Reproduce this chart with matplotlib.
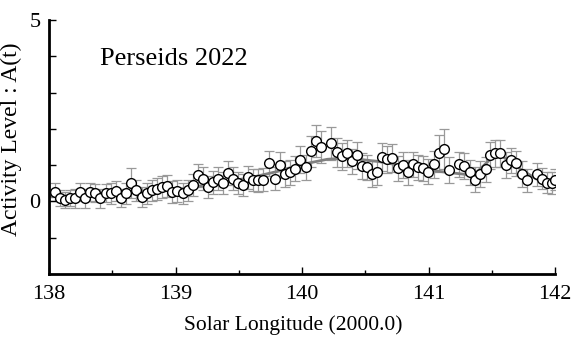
import matplotlib
matplotlib.use("Agg")
import matplotlib.pyplot as plt
from matplotlib.ticker import MultipleLocator

plt.rcParams["font.family"] = ["Liberation Serif", "DejaVu Serif"]

# observed activity (solar longitude, level, error)
sol_lon = [138.047, 138.087, 138.126, 138.166, 138.206, 138.245, 138.285, 138.324, 138.364, 138.403,
           138.451, 138.490, 138.530, 138.569, 138.609, 138.648, 138.688, 138.735, 138.775, 138.814,
           138.854, 138.893, 138.933, 138.972, 139.012, 139.059, 139.099, 139.138, 139.178, 139.217,
           139.257, 139.296, 139.336, 139.375, 139.415, 139.455, 139.494, 139.534, 139.573, 139.613,
           139.652, 139.692, 139.739, 139.787, 139.826, 139.866, 139.905, 139.945, 139.984, 140.032,
           140.071, 140.111, 140.150, 140.229, 140.277, 140.316, 140.356, 140.395, 140.435, 140.474,
           140.514, 140.553, 140.593, 140.632, 140.672, 140.711, 140.759, 140.798, 140.838, 140.877,
           140.917, 140.957, 140.996, 141.043, 141.083, 141.123, 141.162, 141.241, 141.281, 141.328,
           141.368, 141.407, 141.455, 141.486, 141.526, 141.565, 141.613, 141.652, 141.692, 141.739,
           141.779, 141.858, 141.897, 141.937, 141.976, 141.996]
level = [0.26, 0.08, 0.05, 0.08, 0.08, 0.25, 0.08, 0.25, 0.22, 0.08,
         0.22, 0.22, 0.28, 0.10, 0.22, 0.50, 0.30, 0.12, 0.22, 0.30,
         0.35, 0.40, 0.42, 0.26, 0.28, 0.22, 0.30, 0.46, 0.72, 0.63,
         0.40, 0.53, 0.63, 0.50, 0.78, 0.63, 0.50, 0.46, 0.66, 0.58,
         0.58, 0.60, 1.05, 0.63, 1.00, 0.75, 0.80, 0.90, 1.15, 0.94,
         1.38, 1.66, 1.50, 1.60, 1.35, 1.24, 1.32, 1.10, 1.27, 0.97,
         0.94, 0.75, 0.80, 1.22, 1.16, 1.19, 0.91, 1.00, 0.80, 1.02,
         0.94, 0.91, 0.82, 1.02, 1.32, 1.44, 0.86, 1.02, 0.97, 0.80,
         0.60, 0.75, 0.88, 1.27, 1.32, 1.32, 1.00, 1.13, 1.05, 0.75,
         0.58, 0.75, 0.63, 0.52, 0.50, 0.60]
err = [0.25, 0.22, 0.22, 0.22, 0.25, 0.25, 0.25, 0.25, 0.25, 0.25,
       0.25, 0.28, 0.28, 0.25, 0.28, 0.42, 0.28, 0.28, 0.28, 0.30,
       0.30, 0.30, 0.30, 0.30, 0.30, 0.30, 0.30, 0.30, 0.32, 0.32,
       0.30, 0.32, 0.32, 0.30, 0.32, 0.32, 0.30, 0.30, 0.32, 0.30,
       0.32, 0.32, 0.35, 0.32, 0.35, 0.35, 0.35, 0.35, 0.38, 0.35,
       0.42, 0.45, 0.45, 0.45, 0.40, 0.38, 0.38, 0.35, 0.38, 0.35,
       0.35, 0.35, 0.35, 0.38, 0.38, 0.38, 0.35, 0.35, 0.35, 0.35,
       0.35, 0.35, 0.35, 0.38, 0.50, 0.55, 0.35, 0.35, 0.35, 0.35,
       0.35, 0.35, 0.35, 0.38, 0.38, 0.38, 0.35, 0.35, 0.35, 0.35,
       0.32, 0.32, 0.30, 0.30, 0.30, 0.30]

# smoothed trend
fit_lon = [138.0, 138.5, 139.0, 139.3, 139.6, 139.8, 140.0, 140.2, 140.35, 140.6,
           140.85, 141.0, 141.15, 141.3, 141.38, 141.5, 141.58, 141.7, 141.85, 142.0]
fit_lev = [0.12, 0.22, 0.32, 0.48, 0.66, 0.82, 1.02, 1.16, 1.20, 1.10,
           0.95, 0.86, 0.80, 0.74, 0.80, 1.20, 1.25, 0.95, 0.62, 0.40]

fig, ax = plt.subplots(figsize=(5.8, 3.39), dpi=100)
fig.subplots_adjust(left=0.0845, right=0.957, bottom=0.192, top=0.941)

ax.plot(fit_lon, fit_lev, color="#808080", lw=2.0, zorder=2)
ax.errorbar(sol_lon, level, yerr=err, fmt="none", ecolor="#999999", elinewidth=0.9,
            capsize=3.5, capthick=0.9, zorder=1)
ax.plot(sol_lon, level, "o", ms=7, mfc="white", mec="black", mew=1.0, zorder=3)

ax.text(138.40, 3.76, "Perseids 2022", fontsize=19)

ax.set_xlim(138, 142)
ax.set_ylim(-2, 5)
ax.set_xticks([138, 139, 140, 141, 142])
ax.xaxis.set_minor_locator(MultipleLocator(0.5))
ax.set_yticks([-1, 0, 1, 2, 3, 4, 5])
ax.set_yticklabels(["", "0", "", "", "", "", "5"])
ax.tick_params(direction="in", length=5, width=1, labelsize=16)
ax.tick_params(which="minor", direction="in", length=3, width=1)
ax.tick_params(axis="x", pad=8)
ax.tick_params(axis="y", pad=6)
for side in ["top", "right"]:
    ax.spines[side].set_visible(False)
for side in ["left", "bottom"]:
    ax.spines[side].set_linewidth(2)

ax.set_xlabel("Solar Longitude (2000.0)", fontsize=15.5)
ax.set_ylabel("Activity Level : A(t)", fontsize=17)
ax.xaxis.set_label_coords(0.482, -0.162)
ax.yaxis.set_label_coords(-0.054, 0.53)

fig.savefig("out.png", dpi=100)
